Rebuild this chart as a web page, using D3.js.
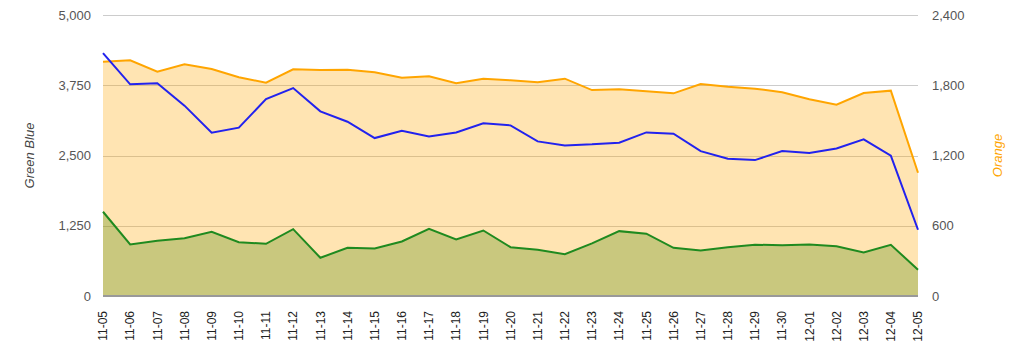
<!DOCTYPE html>
<html>
<head>
<meta charset="utf-8">
<script src="https://cdn.jsdelivr.net/npm/d3@7"></script>
<style>
  body { margin: 0; background: #fff; }
  text { font-family: "Liberation Sans", Arial, sans-serif; }
</style>
</head>
<body>
<div id="chart"></div>
<script>
  const WIDTH = 1024;
  const HEIGHT = 352;
  const margin = { top: 15, right: 106, bottom: 56, left: 103 };

  const days = ["11-05", "11-06", "11-07", "11-08", "11-09", "11-10", "11-11", "11-12",
    "11-13", "11-14", "11-15", "11-16", "11-17", "11-18", "11-19", "11-20", "11-21",
    "11-22", "11-23", "11-24", "11-25", "11-26", "11-27", "11-28", "11-29", "11-30",
    "12-01", "12-02", "12-03", "12-04", "12-05"];

  // right axis
  const orange = [2000, 2013, 1916, 1979, 1939, 1868, 1822, 1936, 1930, 1933, 1911, 1865,
    1876, 1817, 1856, 1842, 1825, 1856, 1759, 1765, 1748, 1731, 1811, 1788, 1771, 1740,
    1680, 1634, 1734, 1754, 1053];

  // left axis
  const blue = [4323, 3766, 3784, 3387, 2906, 2995, 3504, 3700, 3285, 3101, 2810, 2941,
    2840, 2911, 3072, 3036, 2751, 2680, 2698, 2728, 2911, 2888, 2578, 2443, 2418, 2578,
    2543, 2626, 2787, 2496, 1179];

  const green = [1499, 917, 983, 1029, 1143, 958, 929, 1189, 680, 858, 846, 970, 1197,
    1006, 1166, 869, 823, 744, 935, 1154, 1108, 858, 810, 869, 912, 905, 917, 887, 775,
    912, 467];

  const leftTicks = [0, 1250, 2500, 3750, 5000];
  const rightTicks = [0, 600, 1200, 1800, 2400];

  var width = WIDTH - margin.left - margin.right;
  var height = HEIGHT - margin.top - margin.bottom;

  var x = d3.scalePoint().domain(days).range([0, width]);
  var yLeft = d3.scaleLinear().domain([0, 5000]).range([height, 0]);
  var yRight = d3.scaleLinear().domain([0, 2400]).range([height, 0]);

  var svg = d3.select("#chart").append("svg")
    .attr("width", WIDTH)
    .attr("height", HEIGHT)
    .append("g")
    .attr("transform", "translate(" + margin.left + "," + margin.top + ")");

  // gridlines
  svg.append("g")
    .selectAll("line")
    .data(leftTicks.slice(1))
    .enter().append("line")
    .attr("x1", 0)
    .attr("x2", width)
    .attr("y1", function (d) { return Math.round(yLeft(d)) + 0.5; })
    .attr("y2", function (d) { return Math.round(yLeft(d)) + 0.5; })
    .style("stroke", "#cccccc")
    .style("stroke-width", 1);

  function area(data, y) {
    return d3.area()
      .x(function (d, i) { return x(days[i]); })
      .y0(height)
      .y1(function (d) { return y(d); })(data);
  }

  function line(data, y) {
    return d3.line()
      .x(function (d, i) { return x(days[i]); })
      .y(function (d) { return y(d); })(data);
  }

  svg.append("path")
    .attr("d", area(orange, yRight))
    .style("fill", "#ffa500")
    .style("fill-opacity", 0.3);

  svg.append("path")
    .attr("d", area(green, yLeft))
    .style("fill", "#4b8705")
    .style("fill-opacity", 0.3);

  svg.append("path")
    .attr("d", line(orange, yRight))
    .style("fill", "none")
    .style("stroke", "#ffa500")
    .style("stroke-width", 2);

  svg.append("path")
    .attr("d", line(green, yLeft))
    .style("fill", "none")
    .style("stroke", "#1f8a1f")
    .style("stroke-width", 2);

  svg.append("path")
    .attr("d", line(blue, yLeft))
    .style("fill", "none")
    .style("stroke", "#2222ee")
    .style("stroke-width", 2);

  // baseline
  svg.append("line")
    .attr("x1", 0)
    .attr("x2", width)
    .attr("y1", height)
    .attr("y2", height)
    .style("stroke", "#999999")
    .style("stroke-width", 2);

  // axis tick labels
  var fmt = d3.format(",");

  svg.append("g")
    .selectAll("text")
    .data(leftTicks)
    .enter().append("text")
    .attr("x", -12)
    .attr("y", function (d) { return yLeft(d); })
    .attr("dy", "0.35em")
    .style("text-anchor", "end")
    .style("font-size", "13px")
    .style("fill", "#555")
    .text(fmt);

  svg.append("g")
    .selectAll("text")
    .data(rightTicks)
    .enter().append("text")
    .attr("x", width + 14)
    .attr("y", function (d) { return yRight(d); })
    .attr("dy", "0.35em")
    .style("text-anchor", "start")
    .style("font-size", "13px")
    .style("fill", "#555")
    .text(fmt);

  svg.append("g")
    .selectAll("text")
    .data(days)
    .enter().append("text")
    .attr("transform", function (d) {
      return "translate(" + x(d) + "," + (height + 15) + ") rotate(-90)";
    })
    .attr("dy", "0.35em")
    .style("text-anchor", "end")
    .style("font-size", "12px")
    .style("fill", "#222")
    .text(function (d) { return d; });

  // axis titles
  svg.append("text")
    .attr("transform", "translate(" + (34 - margin.left) + "," + (height / 2) + ") rotate(-90)")
    .style("text-anchor", "middle")
    .style("font-size", "13px")
    .style("font-style", "italic")
    .style("fill", "#444")
    .text("Green Blue");

  svg.append("text")
    .attr("transform", "translate(" + (width + 84) + "," + (height / 2) + ") rotate(-90)")
    .style("text-anchor", "middle")
    .style("font-size", "13px")
    .style("font-style", "italic")
    .style("fill", "#ffa500")
    .text("Orange");
</script>
</body>
</html>
